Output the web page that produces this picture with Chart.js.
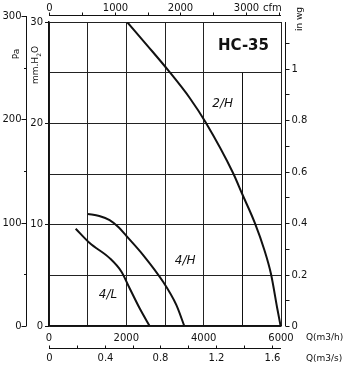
<!DOCTYPE html>
<html>
<head>
<meta charset="utf-8">
<script src="https://cdn.jsdelivr.net/npm/chart.js@4/dist/chart.umd.min.js"></script>
<style>
  html, body { margin: 0; padding: 0; background: #fff; }
</style>
</head>
<body>
<canvas id="fan-chart" width="344" height="367"></canvas>
<script>
// HC-35 fan curves: static pressure (mm H2O) against air flow (m3/h)
const curve2H_q = [2020, 2560, 3100, 3640, 4050, 4760, 5000, 5320, 5570, 5740, 5910, 5990];
const curve2H_p = [30, 27.6, 25.15, 22.5, 20.1, 15.1, 13, 10.2, 7.5, 5.15, 1.6, 0];
const curve4H_q = [1008, 1300, 1568, 1800, 2000, 2430, 2946, 3292, 3500];
const curve4H_p = [11.06, 10.85, 10.45, 9.75, 8.9, 7.03, 4.39, 2.08, 0];
const curve4L_q = [690, 1052, 1568, 1870, 2085, 2344, 2602];
const curve4L_p = [9.6, 8.19, 6.7, 5.38, 3.73, 1.75, 0];

const curveNames = ['2/H', '4/H', '4/L'];

// tick labels of the main and secondary scales
const flowLabels = [0, 2000, 4000, 6000];        // m3/h
const mmLabels = [0, 10, 20, 30];                // mm H2O
const paLabels = [0, 100, 200, 300];             // Pa
const inwgLabels = [0, 0.2, 0.4, 0.6, 0.8, 1];   // in wg
const cfmLabels = [0, 1000, 2000, 3000];         // cfm
const m3sLabels = [0, 0.4, 0.8, 1.2, 1.6];       // m3/s

const INK = '#111';
const FONT = '"DejaVu Sans", sans-serif';

function toPoints(qs, ps) {
  return qs.map((q, i) => ({ x: q, y: ps[i] }));
}

function line(ctx, x1, y1, x2, y2) {
  ctx.beginPath();
  ctx.moveTo(x1, y1);
  ctx.lineTo(x2, y2);
  ctx.stroke();
}

// extra unit scales, title and curve names
const extraAxes = {
  id: 'extraAxes',
  afterDraw(chart) {
    const ctx = chart.ctx;
    const xs = chart.scales.x;
    const ys = chart.scales.y;
    const area = chart.chartArea;
    ctx.save();
    ctx.strokeStyle = INK;
    ctx.fillStyle = INK;
    ctx.lineWidth = 1;

    // 5000 m3/h grid line stops under the title cell
    const x5 = Math.round(xs.getPixelForValue(5000)) + 0.5;
    line(ctx, x5, ys.getPixelForValue(25), x5, ys.getPixelForValue(0));

    ctx.font = '10px ' + FONT;

    // Pa scale on the far left
    const paX = area.left - 22.5;
    const paY = v => ys.getPixelForValue(v / 9.80665);
    line(ctx, paX, paY(0), paX, paY(300));
    ctx.textAlign = 'right';
    ctx.textBaseline = 'middle';
    for (let v = 0; v <= 300; v += 50) {
      const yy = Math.round(paY(v)) + 0.5;
      const major = v % 100 === 0;
      line(ctx, paX - (major ? 5 : 2.5), yy, paX, yy);
      if (major && paLabels.includes(v)) ctx.fillText(String(v), paX - 5, yy);
    }

    // in wg scale on the right
    const wgX = area.right + 4.5;
    const wgY = v => ys.getPixelForValue(v * 25.4);
    line(ctx, wgX, ys.getPixelForValue(0), wgX, area.top);
    ctx.textAlign = 'left';
    for (let i = 0; i <= 11; i++) {
      const v = i / 10;
      const yy = Math.round(wgY(v)) + 0.5;
      line(ctx, wgX, yy, wgX + 4, yy);
      const lbl = inwgLabels.find(l => Math.abs(l - v) < 1e-6);
      if (lbl !== undefined) ctx.fillText(String(lbl), wgX + 6, yy);
    }

    // cfm scale along the top
    const cfmY = area.top - 6.5;
    const cfmX = v => xs.getPixelForValue(v * 1.699);
    line(ctx, area.left, cfmY, area.right, cfmY);
    ctx.textAlign = 'center';
    for (let v = 0; v <= 3500; v += 500) {
      const xx = Math.round(cfmX(v)) + 0.5;
      line(ctx, xx, cfmY - 3, xx, cfmY);
      if (cfmLabels.includes(v)) ctx.fillText(String(v), xx, 8);
    }
    ctx.textAlign = 'left';
    ctx.fillText('cfm', cfmX(3000) + 17, 8);

    // m3/s scale along the bottom
    const sY = area.bottom + 22.5;
    const sX = v => xs.getPixelForValue(v * 3600);
    line(ctx, area.left, sY, area.right, sY);
    ctx.textAlign = 'center';
    for (let i = 0; i <= 8; i++) {
      const v = i / 5;
      const xx = Math.round(sX(v)) + 0.5;
      line(ctx, xx, sY - 3, xx, sY);
      const lbl = m3sLabels.find(l => Math.abs(l - v) < 1e-6);
      if (lbl !== undefined) ctx.fillText(String(lbl), xx, sY + 10);
    }

    // unit names
    ctx.textAlign = 'left';
    ctx.font = '9px ' + FONT;
    ctx.fillText('Q(m3/h)', area.right + 25, area.bottom + 12);
    ctx.fillText('Q(m3/s)', area.right + 25, sY + 10);

    ctx.save();
    ctx.translate(17, 54);
    ctx.rotate(-Math.PI / 2);
    ctx.textAlign = 'center';
    ctx.font = '9px ' + FONT;
    ctx.fillText('Pa', 0, 0);
    ctx.restore();

    ctx.save();
    ctx.translate(36, 65);
    ctx.rotate(-Math.PI / 2);
    ctx.textAlign = 'left';
    ctx.font = '9px ' + FONT;
    const w1 = ctx.measureText('mm.H').width;
    ctx.font = '6px ' + FONT;
    const w2 = ctx.measureText('2').width;
    ctx.font = '9px ' + FONT;
    const w3 = ctx.measureText('O').width;
    let tx = -(w1 + w2 + w3) / 2;
    ctx.fillText('mm.H', tx, 0);
    ctx.font = '6px ' + FONT;
    ctx.fillText('2', tx + w1, 3);
    ctx.font = '9px ' + FONT;
    ctx.fillText('O', tx + w1 + w2, 0);
    ctx.restore();

    ctx.save();
    ctx.translate(300, 19);
    ctx.rotate(-Math.PI / 2);
    ctx.textAlign = 'center';
    ctx.font = '9px ' + FONT;
    ctx.fillText('in wg', 0, 0);
    ctx.restore();

    // model name
    ctx.textAlign = 'center';
    ctx.font = 'bold 15px ' + FONT;
    ctx.fillText('HC-35', xs.getPixelForValue(5030), ys.getPixelForValue(27.6));

    // curve names
    ctx.font = 'italic 12px ' + FONT;
    const spots = [[4490, 21.9], [3520, 6.4], [1525, 3.1]];
    curveNames.forEach((name, i) => {
      ctx.fillText(name, xs.getPixelForValue(spots[i][0]), ys.getPixelForValue(spots[i][1]));
    });

    ctx.restore();
  }
};

const curveStyle = {
  borderColor: INK,
  borderWidth: 2,
  pointRadius: 0,
  showLine: true,
  fill: false,
  cubicInterpolationMode: 'monotone'
};

new Chart(document.getElementById('fan-chart'), {
  type: 'scatter',
  data: {
    datasets: [
      { label: curveNames[0], data: toPoints(curve2H_q, curve2H_p), ...curveStyle },
      { label: curveNames[1], data: toPoints(curve4H_q, curve4H_p), ...curveStyle },
      { label: curveNames[2], data: toPoints(curve4L_q, curve4L_p), ...curveStyle }
    ]
  },
  options: {
    responsive: false,
    animation: false,
    devicePixelRatio: 1,
    layout: { padding: { left: 0, right: 63, top: 22, bottom: 0 } },
    plugins: {
      legend: { display: false },
      tooltip: { enabled: false }
    },
    scales: {
      x: {
        type: 'linear',
        min: 0,
        max: 6000,
        afterFit(scale) { scale.height = 41; },
        border: { display: true, color: INK, width: 1.5 },
        grid: {
          color: c => (c.tick && c.tick.value === 5000 ? 'rgba(0,0,0,0)' : '#222'),
          lineWidth: 1,
          drawTicks: false
        },
        ticks: {
          stepSize: 1000,
          autoSkip: false,
          maxRotation: 0,
          padding: 6,
          color: INK,
          font: { family: FONT, size: 10 },
          callback: v => (flowLabels.includes(v) ? String(v) : '')
        }
      },
      y: {
        type: 'linear',
        min: 0,
        max: 30,
        afterFit(scale) { scale.width = 49; },
        border: { display: true, color: INK, width: 1.5 },
        grid: {
          color: '#222',
          lineWidth: 1,
          tickLength: 4,
          tickColor: c => (c.tick && mmLabels.includes(c.tick.value) ? INK : 'rgba(0,0,0,0)')
        },
        ticks: {
          stepSize: 5,
          autoSkip: false,
          padding: 2,
          color: INK,
          font: { family: FONT, size: 10 },
          callback: v => (mmLabels.includes(v) ? String(v) : '')
        }
      }
    }
  },
  plugins: [extraAxes]
});
</script>
</body>
</html>
